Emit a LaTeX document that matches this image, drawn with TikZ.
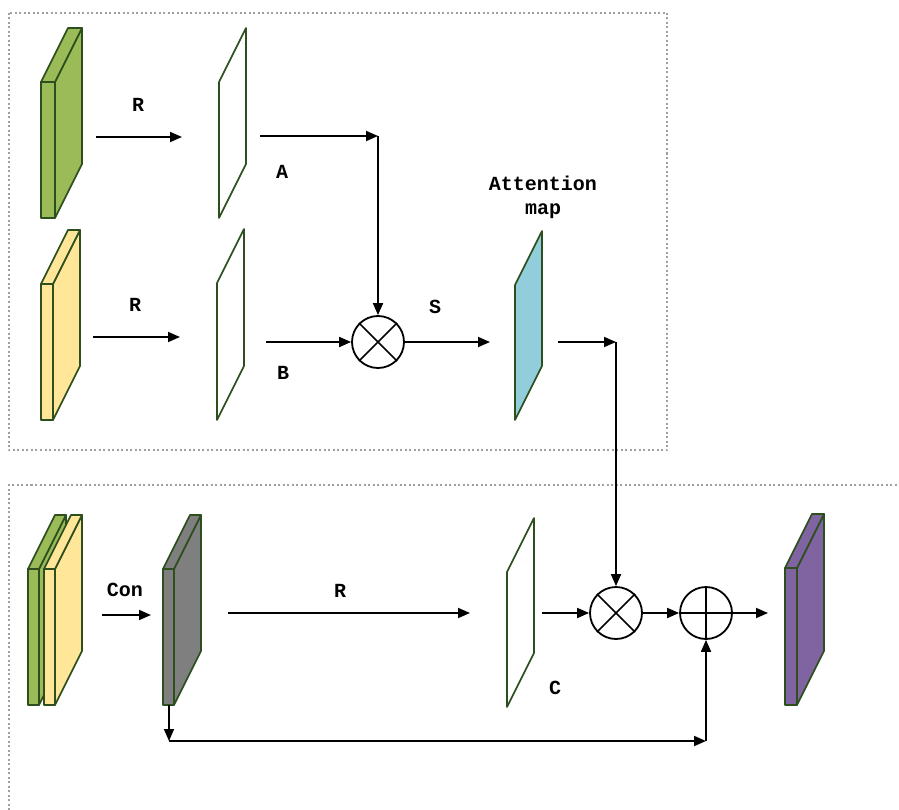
\documentclass[tikz,border=0pt]{standalone}
\usepackage{fontspec}
\newfontfamily\lblfont{Liberation Mono}
\usetikzlibrary{arrows.meta}
\definecolor{edgegreen}{HTML}{2D4F1E}
\definecolor{fgreen}{HTML}{9BBB59}
\definecolor{fyellow}{HTML}{FFE699}
\definecolor{fblue}{HTML}{92CDDC}
\definecolor{fgray}{HTML}{7F7F7F}
\definecolor{fpurple}{HTML}{8064A2}
\definecolor{boxgray}{HTML}{A0A0A0}
\tikzset{
  blockline/.style={draw=edgegreen, line width=1.7pt, line join=round},
  planeline/.style={draw=edgegreen, line width=1.6pt, line join=round},
  conn/.style={draw=black, line width=1.8pt, -{Triangle[length=12pt,width=10pt]}},
  lbl/.style={font=\lblfont\bfseries\fontsize{20}{22}\selectfont, inner sep=0pt},
  op/.style={circle, draw=black, line width=1.8pt, minimum size=52pt, inner sep=0pt, fill=white},
  opline/.style={line width=1.5pt},
  boxline/.style={draw=boxgray, line width=1.3pt, dash pattern=on 2pt off 2.5pt},
}
% block: x, y(top of front face), width, height, colour
\newcommand{\featblk}[5]{%
  \filldraw[blockline, fill=#5] ({#1+#3},{#2}) -- ++(27,-54) -- ++(0,{#4}) -- ({#1+#3},{#2+#4}) -- cycle;
  \filldraw[blockline, fill=#5] (#1,#2) -- ++(27,-54) -- ++({#3},0) -- ({#1+#3},{#2}) -- cycle;
  \filldraw[blockline, fill=#5] (#1,#2) rectangle ({#1+#3},{#2+#4});
}
% plane: x, y(top of left edge), height, fill
\newcommand{\featplane}[4]{%
  \filldraw[planeline, fill=#4] (#1,#2) -- ++(27,-54) -- ++(0,{#3}) -- ({#1},{#2+#3}) -- cycle;
}
\begin{document}
\begin{tikzpicture}[x=1pt,y=-1pt]
\useasboundingbox (0,0) rectangle (899,810);
\fill[white] (0,0) rectangle (899,810);

% dashed frames
\draw[boxline] (9,13) rectangle (667,450);
\draw[boxline] (9,810) -- (9,485) -- (899,485);

% blocks and planes
\featblk{41}{82}{14}{136}{fgreen}
\featblk{41}{284}{12}{136}{fyellow}
\featplane{219}{82}{136}{white}
\featplane{217}{283}{137}{white}
\featplane{515}{285}{135}{fblue}
\featblk{28}{569}{11}{136}{fgreen}
\featblk{44}{569}{11}{136}{fyellow}
\featblk{163}{569}{11}{136}{fgray}
\featplane{507}{572}{135}{white}
\featblk{785}{568}{12}{137}{fpurple}

% operator nodes
\node[op] (m1) at (378,342) {};
\draw[opline] (m1.45) -- (m1.225) (m1.135) -- (m1.315);
\node[op] (m2) at (616,613) {};
\draw[opline] (m2.45) -- (m2.225) (m2.135) -- (m2.315);
\node[op] (p1) at (706,613) {};
\draw[opline] (p1.north) -- (p1.south) (p1.west) -- (p1.east);

% connector end points
\coordinate (g1) at (96,137);   \coordinate (pa1) at (182,137);
\coordinate (y1) at (93,337);   \coordinate (pb1) at (180,337);
\coordinate (pa2) at (260,136); \coordinate (ka) at (378,136);
\coordinate (pb2) at (266,342);
\coordinate (at1) at (490,342);
\coordinate (at2) at (558,342); \coordinate (kt) at (616,342);
\coordinate (cb1) at (102,615); \coordinate (gr1) at (151,615);
\coordinate (gr2) at (228,613); \coordinate (pc1) at (470,613);
\coordinate (pc2) at (542,613);
\coordinate (pu1) at (768,613);
\coordinate (gb) at (169,705);  \coordinate (kb1) at (169,741);
\coordinate (kb2) at (706,741);

% connectors
\draw[conn] (g1) -- (pa1);
\draw[conn] (y1) -- (pb1);
\draw[conn] (pa2) -- (ka);
\draw[conn] (ka) -- (m1.north);
\draw[conn] (pb2) -- (m1.west);
\draw[conn] (m1.east) -- (at1);
\draw[conn] (at2) -- (kt);
\draw[conn] (kt) -- (m2.north);
\draw[conn] (cb1) -- (gr1);
\draw[conn] (gr2) -- (pc1);
\draw[conn] (pc2) -- (m2.west);
\draw[conn] (m2.east) -- (p1.west);
\draw[conn] (p1.east) -- (pu1);
\draw[conn] (gb) -- (kb1);
\draw[conn] (kb1) -- (kb2);
\draw[conn] (kb2) -- (p1.south);

% labels
\node[lbl] (lr1) at (138,105) {R};
\node[lbl] (lr2) at (135,305) {R};
\node[lbl] (la) at (282,172) {A};
\node[lbl] (lb) at (283,373) {B};
\node[lbl] (ls) at (435,307) {S};
\node[lbl] (latt) at (543,183) {Attention};
\node[lbl] (lmap) at (543,211) {map};
\node[lbl] (lcon) at (125,590) {Con};
\node[lbl] (lr3) at (340,591) {R};
\node[lbl] (lc) at (555,688) {C};
\end{tikzpicture}
\end{document}
